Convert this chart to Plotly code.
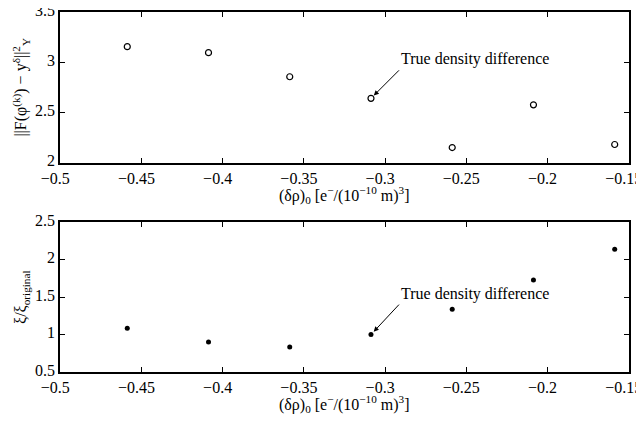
import plotly.graph_objects as go

rho0 = [-0.4587, -0.4087, -0.3587, -0.3087, -0.2587, -0.2087, -0.1587]
residual = [3.155, 3.095, 2.855, 2.64, 2.15, 2.575, 2.18]
xi_ratio = [1.085, 0.90, 0.835, 1.0, 1.34, 1.73, 2.14]
x_ticks = [-0.5, -0.45, -0.4, -0.35, -0.3, -0.25, -0.2, -0.15]
x_labels = ["−0.5", "−0.45", "−0.4", "−0.35", "−0.3", "−0.25", "−0.2", "−0.15"]
true_idx = 3

FONT = "Liberation Serif"
fig = go.Figure()
fig.add_trace(go.Scatter(x=rho0, y=residual, mode="markers",
                         marker=dict(symbol="circle-open", size=6, color="black",
                                     line=dict(width=1.2, color="black")),
                         xaxis="x", yaxis="y", showlegend=False))
fig.add_trace(go.Scatter(x=rho0, y=xi_ratio, mode="markers",
                         marker=dict(symbol="circle", size=5, color="black"),
                         xaxis="x2", yaxis="y2", showlegend=False))

axcommon = dict(showline=True, linecolor="black", linewidth=1.5, mirror="allticks",
                ticks="inside", ticklen=5, tickcolor="black", tickwidth=1,
                showgrid=False, zeroline=False, automargin=False,
                ticklabeloverflow="allow",
                tickfont=dict(family=FONT, size=16, color="black"))
xtitle = "(δρ)<sub>0</sub> [e<sup>−</sup>/(10<sup>−10</sup> m)<sup>3</sup>]"

fig.update_layout(
    width=636, height=414,
    margin=dict(l=52, r=15, t=4, b=50),
    paper_bgcolor="white", plot_bgcolor="white",
    font=dict(family=FONT, size=16, color="black"),
    xaxis=dict(domain=[0, 1], anchor="y", range=[-0.5001, -0.1499], tickvals=x_ticks,
               ticktext=x_labels, ticklabelstandoff=0, ticklabelshift=-5, **axcommon),
    yaxis=dict(domain=[0.5817, 1], anchor="x", range=[2, 3.5], dtick=0.5,
               ticklabelshift=-2,
               title=dict(text="||F(φ<sup>(k)</sup>) − y<sup>δ</sup>||<sup>2</sup><sub>Y</sub>",
                          standoff=4, font=dict(size=16)), **axcommon),
    xaxis2=dict(domain=[0, 1], anchor="y2", range=[-0.5001, -0.1499], tickvals=x_ticks,
                ticktext=x_labels, ticklabelstandoff=0, ticklabelshift=-5, **axcommon),
    yaxis2=dict(domain=[0, 0.4155], anchor="x2", range=[0.5, 2.5], dtick=0.5,
                ticklabelshift=-2,
                title=dict(text="ξ/ξ<sub>original</sub>", standoff=4, font=dict(size=16)),
                **axcommon),
)
for yr in ["y domain", "y2 domain"]:
    fig.add_annotation(x=0.5, y=0, xref="paper", yref=yr, text=xtitle,
                       showarrow=False, xanchor="center", yanchor="top", yshift=-19,
                       font=dict(family=FONT, size=16, color="black"))

fig.add_annotation(x=rho0[true_idx], y=residual[true_idx], xref="x", yref="y",
                   text="True density difference", showarrow=True, arrowhead=2,
                   arrowsize=1, arrowwidth=1, arrowcolor="black",
                   ax=28, ay=-28, xanchor="left", yanchor="bottom",
                   standoff=4, font=dict(family=FONT, size=16, color="black"))
fig.add_annotation(x=rho0[true_idx], y=xi_ratio[true_idx], xref="x2", yref="y2",
                   text="True density difference", showarrow=True, arrowhead=2,
                   arrowsize=1, arrowwidth=1, arrowcolor="black",
                   ax=28, ay=-30, xanchor="left", yanchor="bottom",
                   standoff=4, font=dict(family=FONT, size=16, color="black"))
fig.write_html("out.html")
